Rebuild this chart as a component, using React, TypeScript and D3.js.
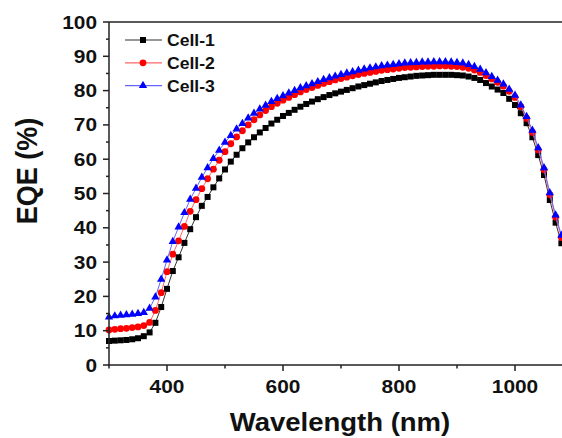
import React from 'react';
import * as d3 from 'd3';

// EQE (%) sampled every 10 nm from 300 nm to 1080 nm
const cell1 = [
  7.0, 7.1, 7.2, 7.3, 7.5, 7.8, 8.4, 9.5, 12.3, 16.9,
  22.2, 27.4, 31.4, 35.6, 39.6, 43.1, 46.4, 49.0, 51.8, 54.4,
  57.0, 59.3, 61.3, 63.2, 64.9, 66.4, 67.8, 69.1, 70.4, 71.5,
  72.6, 73.5, 74.4, 75.3, 76.1, 76.8, 77.5, 78.1, 78.7, 79.2,
  79.7, 80.2, 80.7, 81.2, 81.6, 82.0, 82.4, 82.8, 83.1, 83.4,
  83.7, 83.9, 84.1, 84.3, 84.4, 84.5, 84.6, 84.6, 84.6, 84.6,
  84.5, 84.4, 84.1, 83.7, 83.1, 82.2, 81.2, 80.3, 79.3, 77.6,
  75.8, 73.4, 70.5, 66.4, 61.2, 55.4, 48.1, 41.5, 35.5,
];
const cell2 = [
  10.2, 10.4, 10.6, 10.7, 10.9, 11.1, 11.5, 12.4, 15.9, 21.1,
  27.2, 32.3, 36.2, 40.4, 44.8, 48.2, 51.4, 54.3, 57.1, 59.7,
  62.2, 64.5, 66.5, 68.3, 70.0, 71.5, 72.9, 74.2, 75.3, 76.3,
  77.2, 78.0, 78.8, 79.6, 80.3, 80.9, 81.5, 82.1, 82.6, 83.1,
  83.5, 83.9, 84.3, 84.7, 85.0, 85.3, 85.6, 85.9, 86.1, 86.3,
  86.5, 86.7, 86.8, 86.9, 87.0, 87.1, 87.1, 87.2, 87.2, 87.1,
  87.0, 86.8, 86.5, 86.0, 85.3, 84.4, 83.4, 82.4, 81.3, 79.8,
  78.0, 75.3, 71.9, 67.8, 62.7, 56.9, 49.6, 43.1, 37.2,
];
const cell3 = [
  14.0, 14.3, 14.5, 14.6, 14.8, 15.0, 15.3, 16.5, 19.8, 25.0,
  30.6, 36.0, 40.2, 44.4, 48.3, 51.5, 54.7, 57.5, 60.2, 62.6,
  64.9, 66.9, 68.8, 70.4, 72.0, 73.4, 74.6, 75.7, 76.8, 77.7,
  78.5, 79.3, 80.0, 80.8, 81.4, 82.0, 82.6, 83.2, 83.7, 84.2,
  84.7, 85.1, 85.5, 85.9, 86.3, 86.6, 86.9, 87.2, 87.4, 87.6,
  87.8, 88.0, 88.1, 88.2, 88.3, 88.3, 88.4, 88.4, 88.4, 88.3,
  88.2, 88.0, 87.6, 87.0, 86.2, 85.2, 84.1, 83.0, 81.9, 80.4,
  78.6, 75.8, 72.4, 68.4, 63.3, 57.5, 50.2, 43.7, 37.8,
];
const wavelengths = cell1.map((_, i) => 300 + i * 10);

const seriesNames = ['Cell-1', 'Cell-2', 'Cell-3'];
const xMajorTicks = [400, 600, 800, 1000];
const xMinorTicks = [300, 500, 700, 900, 1100];
const yMajorTicks = [0, 10, 20, 30, 40, 50, 60, 70, 80, 90, 100];
const yMinorTicks = [5, 15, 25, 35, 45, 55, 65, 75, 85, 95];

const FONT = '"Liberation Sans", Arial, Helvetica, sans-serif';
const SX = 1.16; // horizontal stretch of the original text

type Marker = 'square' | 'circle' | 'triangle';
const styles: { color: string; lineColor: string; marker: Marker }[] = [
  { color: '#000000', lineColor: '#333333', marker: 'square' },
  { color: '#ff0000', lineColor: '#ff6666', marker: 'circle' },
  { color: '#0000ff', lineColor: '#6666ff', marker: 'triangle' },
];

function MarkerShape({ kind, cx, cy, color }: { kind: Marker; cx: number; cy: number; color: string }) {
  if (kind === 'square') {
    return <rect x={cx - 3} y={cy - 3} width={6} height={6} fill={color} />;
  }
  if (kind === 'circle') {
    return <circle cx={cx} cy={cy} r={3.4} fill={color} />;
  }
  const tri = d3.symbol(d3.symbolTriangle, 30)();
  return <path d={tri || ''} transform={`translate(${cx},${cy})`} fill={color} />;
}

function SText({ x, y, children, anchor = 'middle', size, sx = SX }: any) {
  return (
    <g transform={`translate(${x},${y}) scale(${sx},1)`}>
      <text textAnchor={anchor} fontFamily={FONT} fontWeight="bold" fontSize={size} fill="#111">
        {children}
      </text>
    </g>
  );
}

export default function App() {
  const W = 562;
  const H = 438;
  const x = d3.scaleLinear().domain([300, 1100]).range([109, 573]);
  const y = d3.scaleLinear().domain([0, 100]).range([365, 22]);
  const data = [cell1, cell2, cell3];
  const line = d3
    .line<number>()
    .x((_, i) => x(wavelengths[i]))
    .y((d) => y(d));

  const x0 = x(300);
  const y0 = y(0);
  const yTop = y(100);

  return (
    <svg
      width={W}
      height={H}
      viewBox={`0 0 ${W} ${H}`}
      style={{ position: 'absolute', left: 0, top: 0, background: '#fff' }}
    >
      <rect x={0} y={0} width={W} height={H} fill="#fff" />

      {/* series */}
      {data.map((vals, si) => (
        <g key={seriesNames[si]}>
          <path d={line(vals) || ''} fill="none" stroke={styles[si].lineColor} strokeWidth={1} />
          {vals.map((v, i) => (
            <MarkerShape key={i} kind={styles[si].marker} cx={x(wavelengths[i])} cy={y(v)} color={styles[si].color} />
          ))}
        </g>
      ))}

      {/* axes */}
      <g stroke="#222" strokeWidth={1.5} fill="none">
        <line x1={x0} y1={yTop} x2={W} y2={yTop} />
        <line x1={x0} y1={yTop} x2={x0} y2={y0 + 0.75} />
        <line x1={x0 - 0.75} y1={y0} x2={W} y2={y0} />
        {yMajorTicks.map((t) => (
          <line key={'ym' + t} x1={x0 - 6} x2={x0} y1={y(t)} y2={y(t)} />
        ))}
        {yMinorTicks.map((t) => (
          <line key={'yn' + t} x1={x0 - 3} x2={x0} y1={y(t)} y2={y(t)} />
        ))}
        {xMajorTicks.map((t) => (
          <line key={'xm' + t} x1={x(t)} x2={x(t)} y1={y0} y2={y0 + 6} />
        ))}
        {xMinorTicks.map((t) => (
          <line key={'xn' + t} x1={x(t)} x2={x(t)} y1={y0} y2={y0 + 3.5} />
        ))}
      </g>

      {/* tick labels */}
      {yMajorTicks.map((t) => (
        <SText key={'yl' + t} x={97} y={y(t) + 6.5} anchor="end" size={18}>
          {t}
        </SText>
      ))}
      {xMajorTicks.map((t) => (
        <SText key={'xl' + t} x={x(t)} y={392.5} size={18}>
          {t}
        </SText>
      ))}

      {/* axis titles */}
      <SText x={340} y={431} size={25} sx={1.1}>
        Wavelength (nm)
      </SText>
      <g transform={`translate(37,171) rotate(-90) scale(1,1.12)`}>
        <text textAnchor="middle" fontFamily={FONT} fontWeight="bold" fontSize={27} fill="#111">
          EQE (%)
        </text>
      </g>

      {/* legend */}
      {seriesNames.map((name, i) => {
        const ly = 40 + i * 22.8;
        return (
          <g key={'lg' + name}>
            <line x1={125} x2={162} y1={ly} y2={ly} stroke={styles[i].lineColor} strokeWidth={1.2} />
            <MarkerShape kind={styles[i].marker} cx={143} cy={ly} color={styles[i].color} />
            <SText x={167} y={ly + 6} anchor="start" size={16} sx={1.1}>
              {name}
            </SText>
          </g>
        );
      })}
    </svg>
  );
}
